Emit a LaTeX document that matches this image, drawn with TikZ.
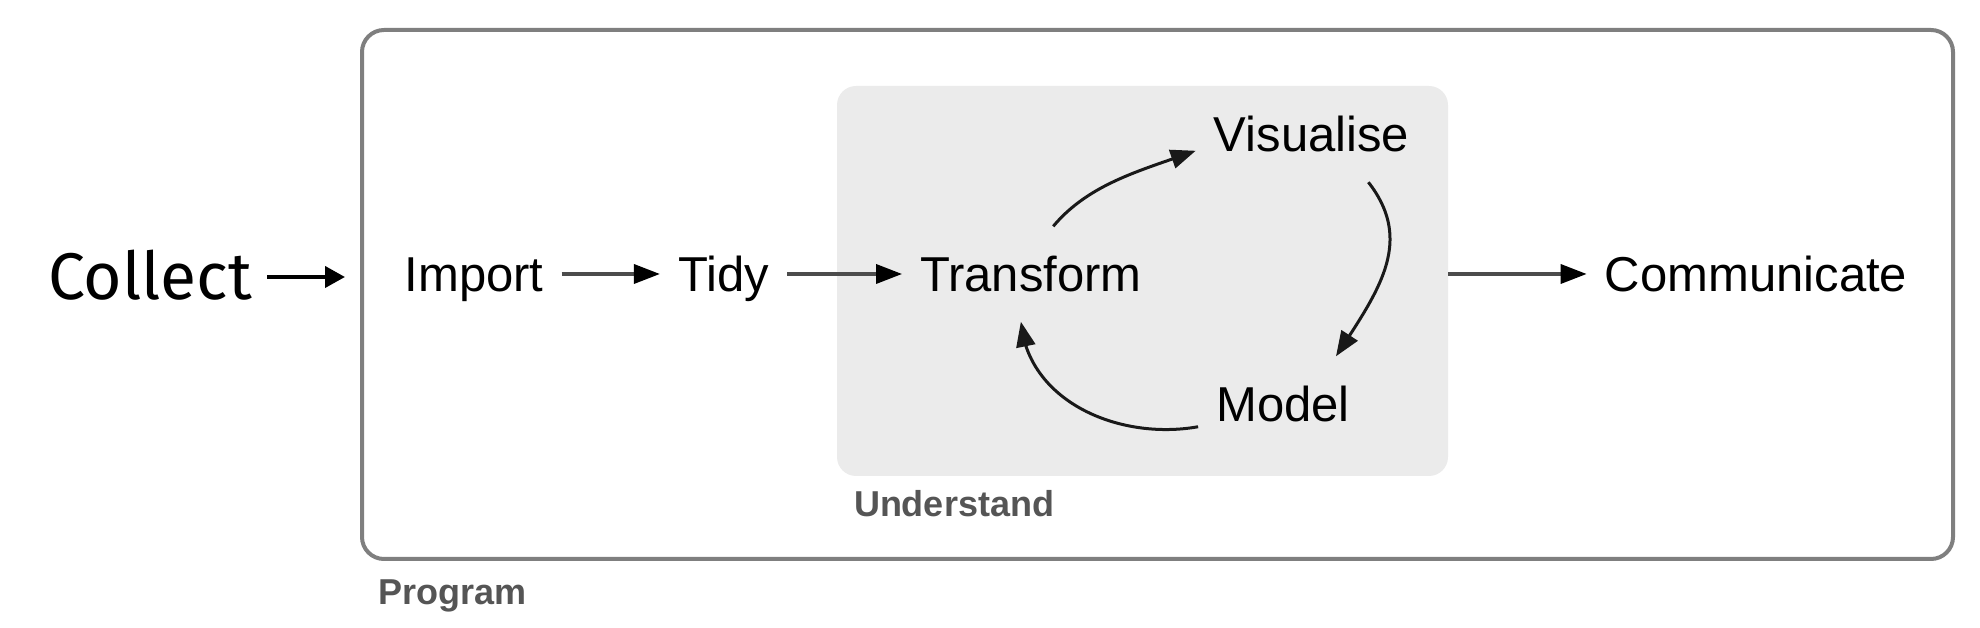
\documentclass[tikz,border=0pt]{standalone}
\usepackage{fontspec}
\setmainfont{Liberation Sans}
\newfontfamily\collectfont{Fira Sans}
\usetikzlibrary{positioning, arrows.meta, bending}
\definecolor{framegray}{HTML}{7F7F7F}
\definecolor{panelgray}{HTML}{EBEBEB}
\definecolor{taggray}{HTML}{555555}

\begin{document}
\begin{tikzpicture}[
        x=1pt, y=1pt,
        word/.style={inner xsep=18pt, inner ysep=0pt, text height=35pt, text depth=0pt, font=\fontsize{49}{58}\selectfont},
        cyc/.style={word, inner ysep=30pt},
        tag/.style={anchor=north west, inner sep=0pt, text height=26pt, text depth=0pt, font=\fontsize{36}{43}\selectfont\bfseries, text=taggray},
        frame/.style={draw=framegray, line width=4pt, rounded corners=22pt, minimum width=1591pt, minimum height=529pt},
        panel/.style={fill=panelgray, rounded corners=19pt, minimum width=611pt, minimum height=390pt},
        arr/.style={-{Triangle[length=26pt, width=19pt, color=black]}, line width=3.5pt, black!70},
        turn/.style={-{Triangle[length=25pt, width=19pt]}, line width=3pt, black!90},
        inarr/.style={-{Triangle[length=20pt, width=21pt]}, line width=4pt, black}
    ]
    \useasboundingbox (0,0) rectangle (1980,628);

    \node[frame] (program) at (1157.5,333.5) {};
    \node[panel] (understand) at (1142.5,347) {};
    \node[tag] (programtag) at ([xshift=18pt, yshift=-17pt]program.south west) {Program};
    \node[tag] (understandtag) at ([xshift=17pt, yshift=-14pt]understand.south west) {Understand};

    \node[word, inner xsep=15pt, text height=46pt, font=\collectfont\fontsize{66}{78}\selectfont] (collect) at (150,351) {Collect};
    \node[word] (import) at (474,354) {Import};
    \node[word] (tidy) at (723.5,354) {Tidy};
    \node[cyc] (transform) at (1031,354) {Transform};
    \node[cyc] (visualise) at (1311.5,493.5) {Visualise};
    \node[cyc] (model) at (1283,224) {Model};
    \node[word] (communicate) at (1756,354) {Communicate};

    \draw[inarr, shorten >=15pt] (collect.east) -- (collect.east -| program.west);
    \draw[arr] (import) -- (tidy);
    \draw[arr] (tidy) -- (transform);
    \draw[arr] (understand.east |- communicate.west) -- (communicate.west);
    \draw[turn] (transform.65) to[out=50, in=200, looseness=0.9] (visualise.188);
    \draw[turn] (visualise.-40) to[out=-52, in=57, looseness=1.1] (model.42);
    \draw[turn] (model.195) to[out=190, in=-85] (transform.258);
\end{tikzpicture}
\end{document}
